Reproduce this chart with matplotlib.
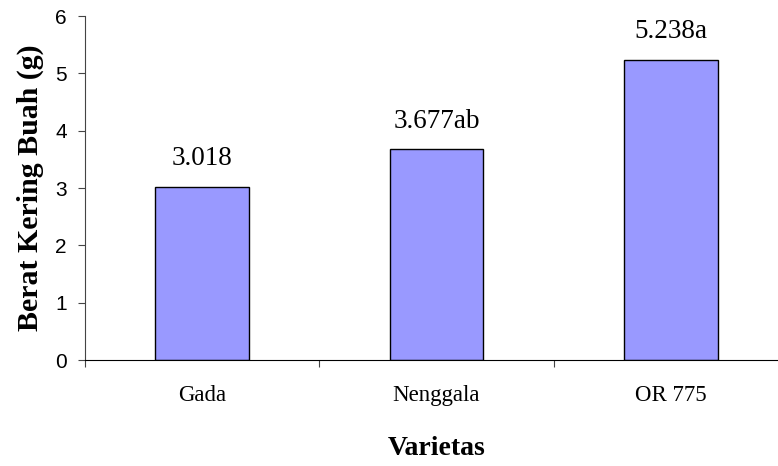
import numpy as np
import matplotlib.pyplot as plt
from matplotlib.ticker import FixedLocator, NullFormatter

varietas = ["Gada", "Nenggala", "OR 775"]
berat = [3.018, 3.677, 5.238]
notasi = ["", "ab", "a"]

serif = ["Liberation Serif", "DejaVu Serif"]
sans = ["Liberation Sans", "DejaVu Sans"]

fig = plt.figure(figsize=(7.78, 4.66), dpi=100)
ax = fig.add_axes([85 / 778, 106 / 466, 703 / 778, 344 / 466])

x = np.arange(len(varietas))
bars = ax.bar(x, berat, width=0.40, color="#9999FF", edgecolor="black", linewidth=1.0, zorder=2)

for xi, v, n in zip(x, berat, notasi):
    ax.annotate(f"{v:.3f}{n}", (xi, v), xytext=(0, 15.5), textcoords="offset points",
                ha="center", va="baseline", fontsize=19.5, family=serif)

ax.set_xlim(-0.5, 2.5)
ax.set_ylim(0, 6)
ax.set_yticks(range(0, 7))
ax.set_yticklabels([str(i) for i in range(0, 7)], family=sans, fontsize=15)

# tick marks between categories, labels centred under the bars
ax.xaxis.set_major_locator(FixedLocator([-0.5, 0.5, 1.5]))
ax.xaxis.set_major_formatter(NullFormatter())
ax.xaxis.set_minor_locator(FixedLocator(x))
ax.set_xticklabels(varietas, minor=True, family=serif, fontsize=16.5)
ax.tick_params(axis="x", which="minor", length=0, pad=18)
ax.tick_params(axis="x", which="major", length=5, direction="out", color="#444444")
ax.tick_params(axis="y", length=5, direction="out", color="#444444", pad=8)

for s in ["top", "right"]:
    ax.spines[s].set_visible(False)
ax.spines["left"].set_color("#444444")
ax.spines["bottom"].set_color("black")

ax.set_xlabel("Varietas", family=serif, fontsize=20, fontweight="bold", va="baseline")
ax.xaxis.set_label_coords(0.5, (360 - 455) / 344)
ax.set_ylabel("Berat Kering Buah (g)", family=serif, fontsize=21.5, fontweight="bold", va="center")
ax.yaxis.set_label_coords((30 - 85) / 703, 0.5)

fig.savefig("out.png", dpi=100)
